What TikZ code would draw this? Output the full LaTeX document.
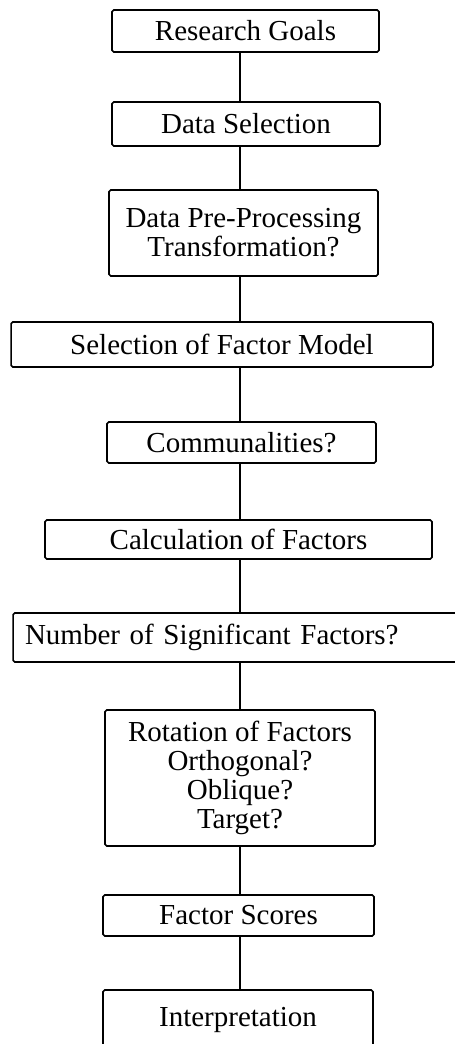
\documentclass[tikz,border=0pt]{standalone}
\usepackage{fontspec}
\setmainfont{Liberation Serif}
\usetikzlibrary{positioning}

\begin{document}
\begin{tikzpicture}[x=0.02cm,y=-0.02cm,
        stage/.style={draw, line width=0.9pt, rounded corners=1pt, align=center,
            inner sep=0pt, font=\fontsize{16.5}{16.5}\selectfont},
        link/.style={line width=0.9pt}]

        \useasboundingbox (0,0) rectangle (454,1044);

        %=====================
        % Stages
        %=====================
        \node[stage, minimum width=5.34cm, minimum height=0.84cm] (goals) at (245.5,31)
        {Research Goals};

        \node[stage, minimum width=5.36cm, minimum height=0.88cm] (select) at (246,124)
        {Data Selection};

        \node[stage, minimum width=5.38cm, minimum height=1.72cm] (prep) at (243.5,233)
        {Data Pre-Processing\\Transformation?};

        \node[stage, minimum width=8.44cm, minimum height=0.9cm] (model) at (222,344.5)
        {Selection of Factor Model};

        \node[stage, minimum width=5.38cm, minimum height=0.82cm] (comm) at (241.5,442.5)
        {Communalities?};

        \node[stage, minimum width=7.74cm, minimum height=0.78cm] (calc) at (238.5,539.5)
        {Calculation of Factors};

        % text sits left of the box centre
        \node[stage, align=left, text width=8.5cm, inner xsep=0.24cm, minimum height=0.98cm]
        (signif) at (237.5,637.5) {Number of Significant Factors?};

        \node[stage, minimum width=5.4cm, minimum height=2.72cm] (rot) at (240,778)
        {Rotation of Factors\\Orthogonal?\\Oblique?\\Target?};

        \node[stage, minimum width=5.42cm, minimum height=0.82cm] (scores) at (238.5,915.5)
        {Factor Scores};

        \node[stage, minimum width=5.4cm, minimum height=1.2cm] (interp) at (238,1020)
        {Interpretation};

        %=====================
        % Connectors
        %=====================
        \coordinate (spine) at (240,0);

        \draw[link] (goals.south -| spine) -- (select.north -| spine);
        \draw[link] (select.south -| spine) -- (prep.north -| spine);
        \draw[link] (prep.south -| spine) -- (model.north -| spine);
        \draw[link] (model.south -| spine) -- (comm.north -| spine);
        \draw[link] (comm.south -| spine) -- (calc.north -| spine);
        \draw[link] (calc.south -| spine) -- (signif.north -| spine);
        \draw[link] (signif.south -| spine) -- (rot.north -| spine);
        \draw[link] (rot.south -| spine) -- (scores.north -| spine);
        \draw[link] (scores.south -| spine) -- (interp.north -| spine);

    \end{tikzpicture}
\end{document}
